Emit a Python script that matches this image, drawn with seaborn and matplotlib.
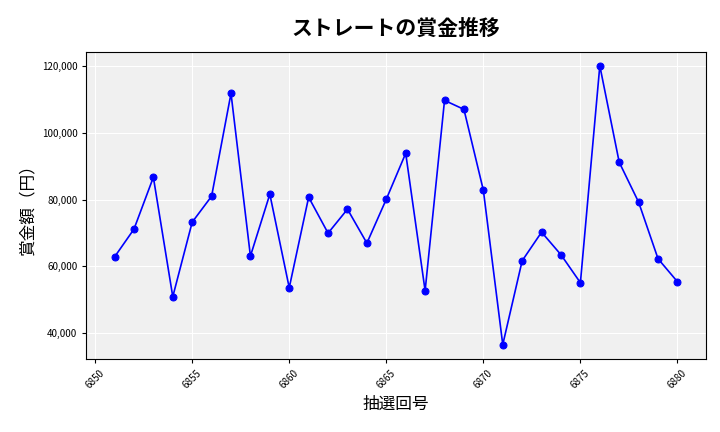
import matplotlib
matplotlib.use("Agg")
import matplotlib.pyplot as plt
import seaborn as sns
import pandas as pd
from matplotlib.ticker import FuncFormatter

draws = list(range(6851, 6881))
prizes = [62750, 71100, 86700, 50800, 73200, 81000, 111900, 63000, 81600, 53500,
          80700, 69900, 77100, 66900, 80100, 93900, 52600, 109800, 107100, 82800,
          36400, 61600, 70200, 63400, 55000, 120200, 91200, 79200, 62200, 55300]

sns.set_style("darkgrid", {"axes.facecolor": "#f0f0f0", "grid.color": "white",
                           "xtick.bottom": True, "ytick.left": True,
                           "text.color": "black", "axes.labelcolor": "black",
                           "xtick.color": "black", "ytick.color": "black"})
plt.rcParams['font.family'] = ['Noto Sans CJK JP', 'DejaVu Sans']

df = pd.DataFrame({"draw": draws, "prize": prizes})
fig, ax = plt.subplots(figsize=(7.2, 4.32), dpi=100)
sns.lineplot(data=df, x="draw", y="prize", color="blue", marker="o", markersize=5,
             markeredgecolor="blue", linewidth=1.2, ax=ax)
ax.set_title("ストレートの賞金推移", fontsize=15, fontweight="bold", pad=12)
ax.set_xlabel("抽選回号", fontsize=12)
ax.set_ylabel("賞金額（円）", fontsize=12)
ax.yaxis.set_major_formatter(FuncFormatter(lambda v, p: f"{int(v):,}"))
ax.tick_params(axis="x", labelrotation=45, labelsize=7, length=3)
ax.tick_params(axis="y", labelsize=7, length=3)
for s in ax.spines.values():
    s.set_visible(True)
    s.set_color("black")
fig.subplots_adjust(left=0.12, right=0.98, top=0.88, bottom=0.17)
fig.savefig("out.png")
